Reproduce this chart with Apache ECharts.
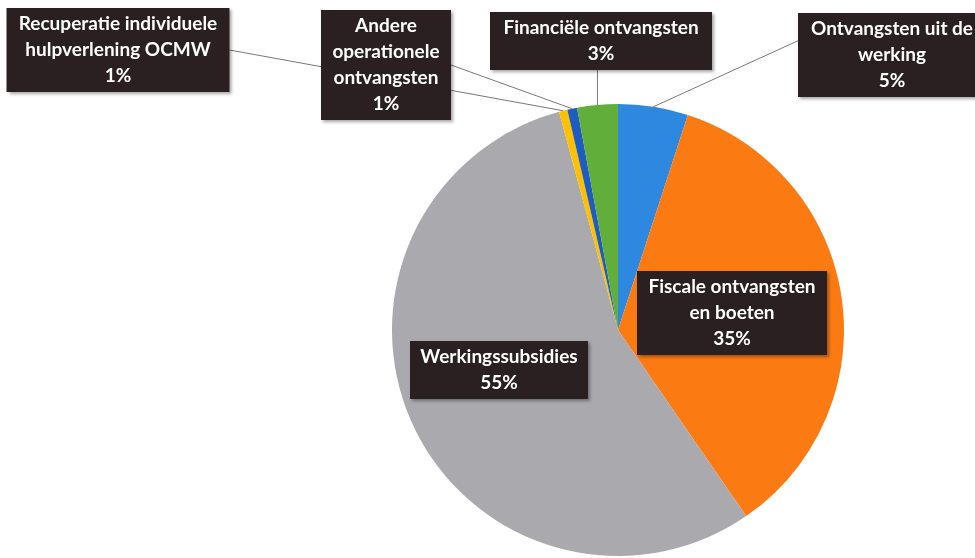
<!DOCTYPE html>
<html>
<head>
<meta charset="utf-8">
<script src="https://cdn.jsdelivr.net/npm/echarts@6/dist/echarts.min.js"></script>
<style>
html,body{margin:0;padding:0;background:#fff;}
#chart{width:975px;height:558px;}
</style>
</head>
<body>
<div id="chart"></div>
<script>
// Data (clockwise from 12 o'clock)
const categories = [
  'Ontvangsten uit de werking',
  'Fiscale ontvangsten en boeten',
  'Werkingssubsidies',
  'Recuperatie individuele hulpverlening OCMW',
  'Andere operationele ontvangsten',
  'Financiële ontvangsten'
];
const labelNames = [
  'Ontvangsten uit de\nwerking',
  'Fiscale ontvangsten\nen boeten',
  'Werkingssubsidies',
  'Recuperatie individuele\nhulpverlening OCMW',
  'Andere\noperationele\nontvangsten',
  'Financiële ontvangsten'
];
const values = [5.0, 35.4, 55.4, 0.6, 0.7, 2.9];
const colors = ['#2f88e0', '#fb7b12', '#a9a9ae', '#ffc000', '#1f5cbf', '#62ae3a'];

// Label layout (box centres, widths, attach point for leader line)
const labelCenters = [[892, 55], [732, 313], [499, 370], [118, 50], [386, 65], [601, 41]];
const labelWidths = [180, 182, 170, 215, 122, 214];
const labelLineShown = [true, false, false, true, true, true];
const attach = [[0, 0.33], null, null, [1, 0.5], [1, 0.5], ['anchor', 1]];

const chart = echarts.init(document.getElementById('chart'), null, {renderer: 'canvas'});

const data = categories.map((c, i) => ({
  name: c,
  value: values[i],
  itemStyle: {color: colors[i]},
  label: {width: labelWidths[i]},
  labelLine: {show: labelLineShown[i]}
}));

chart.setOption({
  animation: false,
  series: [{
    type: 'pie',
    center: [618, 330],
    radius: 226,
    startAngle: 90,
    clockwise: true,
    avoidLabelOverlap: false,
    emphasis: {disabled: true},
    itemStyle: {borderWidth: 0},
    label: {
      show: true,
      position: 'outside',
      formatter: p => labelNames[p.dataIndex] + '\n' + Math.round(p.percent) + '%',
      color: '#ffffff',
      fontFamily: 'Lato',
      fontWeight: 'bold',
      fontSize: 19,
      lineHeight: 26,
      align: 'center',
      backgroundColor: '#2a2022',
      padding: [3, 4],
      shadowColor: 'rgba(0,0,0,0.35)',
      shadowBlur: 3,
      shadowOffsetX: 2,
      shadowOffsetY: 2
    },
    labelLine: {
      show: true,
      length: 5,
      length2: 5,
      lineStyle: {color: '#777', width: 1}
    },
    labelLayout: function (params) {
      const i = params.dataIndex;
      const c = labelCenters[i];
      const w = params.labelRect.width, h = params.labelRect.height;
      const res = {x: c[0], y: c[1], align: 'center', verticalAlign: 'middle'};
      const a = attach[i];
      if (a && params.labelLinePoints) {
        const p0 = params.labelLinePoints[0];
        const rx = c[0] - w / 2, ry = c[1] - h / 2;
        const ex = a[0] === 'anchor' ? p0[0] : rx + a[0] * w;
        const ey = ry + a[1] * h;
        res.labelLinePoints = [[p0[0], p0[1]], [p0[0], p0[1]], [ex, ey]];
      }
      return res;
    },
    data: data
  }]
});
</script>
</body>
</html>
